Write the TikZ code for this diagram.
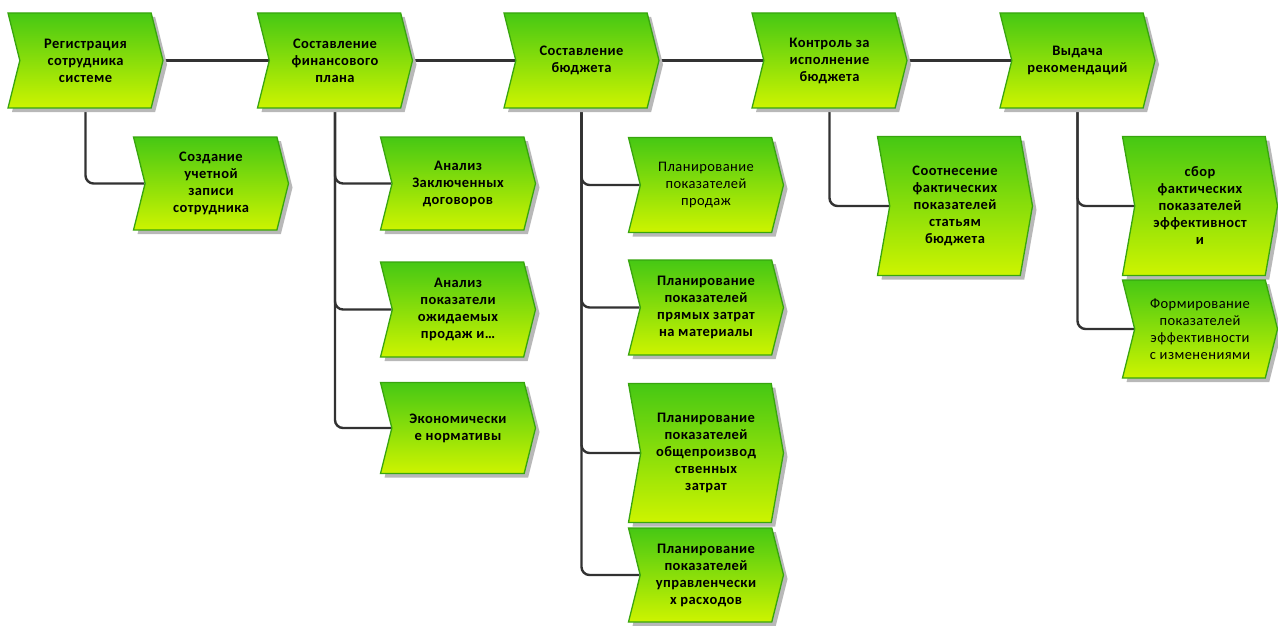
\documentclass[tikz,border=0pt]{standalone}
\usepackage{fontspec}
\setmainfont{Carlito}[LetterSpace=3]
\usetikzlibrary{shapes.symbols,shadows,backgrounds}

\definecolor{fnTop}{RGB}{70,200,20}
\definecolor{fnBottom}{RGB}{205,244,0}
\definecolor{fnEdge}{RGB}{56,165,14}
\definecolor{wire}{RGB}{50,50,50}

\tikzset{
  fn/.style={signal, signal from=west, signal to=east, signal pointer angle=152,
    minimum width=155pt, minimum height=95pt, inner sep=1pt,
    top color=fnTop, bottom color=fnBottom, draw=fnEdge, line width=1.3pt,
    drop shadow={shadow xshift=4pt, shadow yshift=-4pt, fill=black!28, opacity=1},
    font=\bfseries\fontsize{14.5}{17}\selectfont, align=center, text=black},
  tall/.style={minimum height=139pt, signal pointer angle=160},
  plain/.style={font=\mdseries\fontsize{14.5}{17}\selectfont},
  link/.style={draw=wire, line width=2.4pt, rounded corners=8pt},
}

\begin{document}
\begin{tikzpicture}[x=1pt, y=-1pt]
    \useasboundingbox (0,0) rectangle (1278,626);

    % верхняя цепочка
    \node[fn] (reg) at (85.5,60.5) {Регистрация\\сотрудника\\системе};
    \node[fn] (fin) at (335,60.5) {Составление\\финансового\\плана};
    \node[fn] (bud) at (581.5,60.5) {Составление\\бюджета};
    \node[fn] (ctl) at (829.5,60.5) {Контроль за\\исполнение\\бюджета};
    \node[fn] (rec) at (1077.5,60.5) {Выдача\\рекомендаций};

    % подфункции
    \node[fn, minimum height=93pt] (acc) at (211,183.5) {Создание\\учетной\\записи\\сотрудника};
    \node[fn, minimum height=93pt] (dog) at (458,183.5) {Анализ\\Заключенных\\договоров};
    \node[fn] (sal) at (458,309.5) {Анализ\\показатели\\ожидаемых\\продаж и…};
    \node[fn, minimum height=91pt] (nor) at (458,428) {Экономически\\е нормативы};
    \node[fn, plain] (psa) at (706,185) {Планирование\\показателей\\продаж};
    \node[fn] (pmt) at (706,307.5) {Планирование\\показателей\\прямых затрат\\на материалы};
    \node[fn, tall] (pov) at (706,453) {Планирование\\показателей\\общепроизвод\\ственных\\затрат};
    \node[fn, minimum height=94pt] (pup) at (706,575) {Планирование\\показателей\\управленчески\\х расходов};
    \node[fn, tall] (cmp) at (955,206) {Соотнесение\\фактических\\показателей\\статьям\\бюджета};
    \node[fn, tall] (eff) at (1200,206) {сбор\\фактических\\показателей\\эффективност\\и};
    \node[fn, plain, minimum height=98pt] (frm) at (1200,329) {Формирование\\показателей\\эффективности\\с изменениями};

    % связи
    \begin{pgfonlayer}{background}
    \draw[link] (reg.east) -- (fin.west);
    \draw[link] (fin.east) -- (bud.west);
    \draw[link] (bud.east) -- (ctl.west);
    \draw[link] (ctl.east) -- (rec.west);
    \draw[link] (reg.south) |- (acc.west);
    \foreach \c in {dog,sal,nor} \draw[link] (fin.south) |- (\c.west);
    \foreach \c in {psa,pmt,pov,pup} \draw[link] (bud.south) |- (\c.west);
    \draw[link] (ctl.south) |- (cmp.west);
    \foreach \c in {eff,frm} \draw[link] (rec.south) |- (\c.west);
    \end{pgfonlayer}
\end{tikzpicture}
\end{document}
